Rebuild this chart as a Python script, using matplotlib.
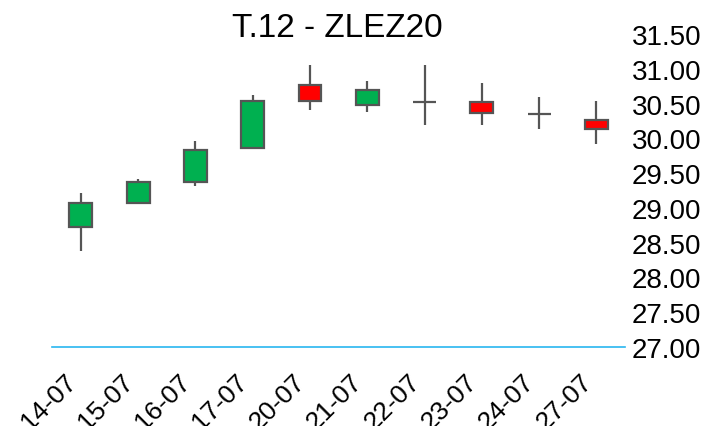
import matplotlib.pyplot as plt
import numpy as np

plt.rcParams['font.family'] = ['Liberation Sans', 'DejaVu Sans']

# Данные свечей
dates = ['14-07', '15-07', '16-07', '17-07', '20-07', '21-07', '22-07', '23-07', '24-07', '27-07']
opens = [28.72, 29.07, 29.37, 29.86, 30.76, 30.48, 30.52, 30.52, 30.35, 30.27]
closes = [29.07, 29.37, 29.83, 30.53, 30.53, 30.69, 30.52, 30.36, 30.35, 30.13]
highs = [29.21, 29.41, 29.96, 30.62, 31.05, 30.83, 31.05, 30.80, 30.60, 30.53]
lows = [28.38, 29.07, 29.31, 29.86, 30.41, 30.38, 30.19, 30.19, 30.14, 29.92]

x = np.arange(len(dates))
opens = np.array(opens)
closes = np.array(closes)
colors = ['#00B050' if c >= o else '#FF0000' for o, c in zip(opens, closes)]

fig = plt.figure(figsize=(7.04, 4.27), dpi=100)
ax = fig.add_axes([0.074, 0.185, 0.814, 0.733])

ax.vlines(x, lows, highs, color='#555555', lw=1.6, zorder=1)
ax.bar(x, np.abs(closes - opens), bottom=np.minimum(opens, closes), width=0.4,
       color=colors, edgecolor='#555555', linewidth=1.6, zorder=2)

ax.set_xlim(-0.5, len(dates) - 0.5)
ax.set_ylim(27, 31.5)
ax.set_yticks(np.arange(27, 31.51, 0.5))
ax.set_yticklabels([f'{v:.2f}' for v in np.arange(27, 31.51, 0.5)])
ax.yaxis.tick_right()
ax.set_xticks(x)
ax.set_xticklabels(dates, rotation=45, ha='right')

for s in ['top', 'left', 'right']:
    ax.spines[s].set_visible(False)
ax.spines['bottom'].set_color('#29B6F0')
ax.spines['bottom'].set_linewidth(1.2)

ax.tick_params(axis='y', length=0, pad=5, labelsize=20)
ax.tick_params(axis='x', length=0, pad=16, labelsize=19)

# Заголовок
fig.text(337.5 / 704, 1 - 37 / 427, 'T.12 - ZLEZ20', fontsize=24,
         ha='center', va='baseline')

fig.savefig('out.png', dpi=100)
